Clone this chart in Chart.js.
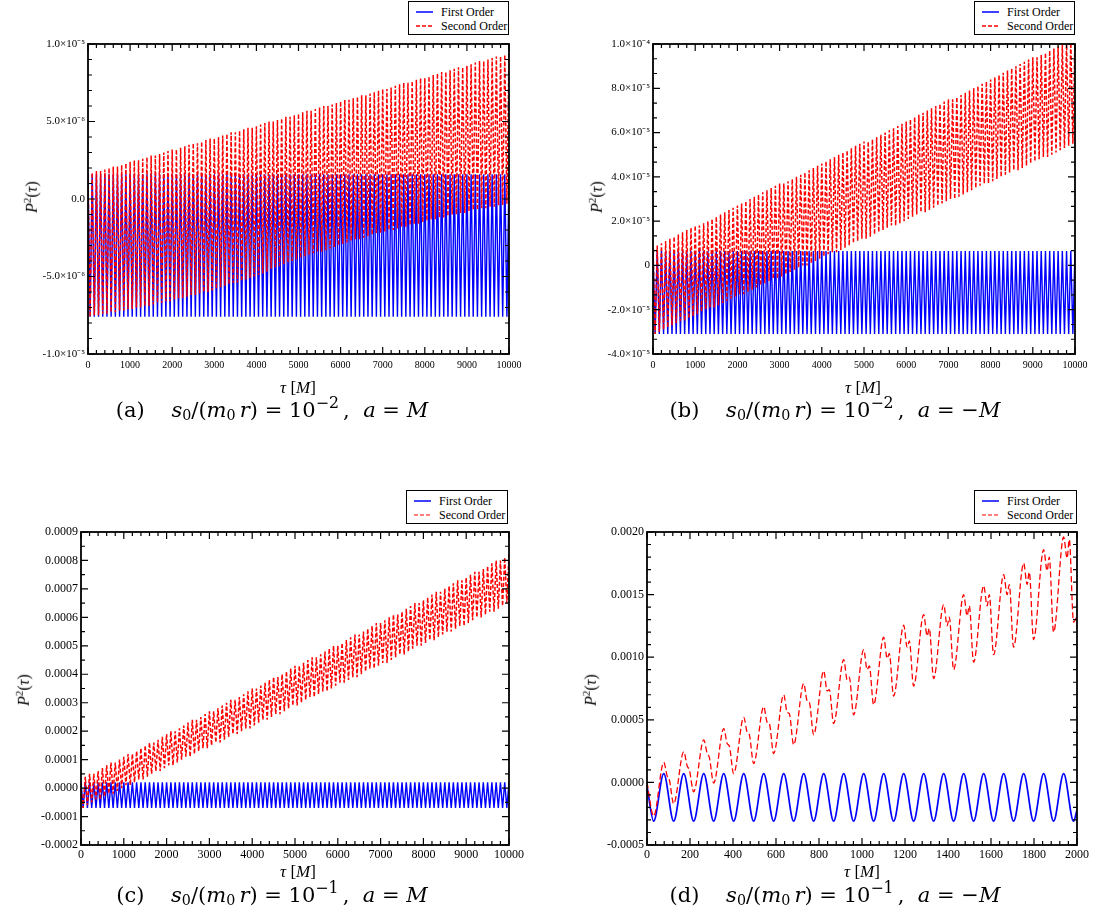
<!DOCTYPE html>
<html>
<head>
<meta charset="utf-8">
<script src="https://cdn.jsdelivr.net/npm/chart.js@4.4.1/dist/chart.umd.min.js"></script>
<style>
    body { margin: 0; background: #fff; width: 1112px; height: 909px; position: relative; overflow: hidden; font-family: "Liberation Serif", "Times New Roman", Times, serif; color: #000; }
    canvas { position: absolute; }
    .legend { position: absolute; border: 1px solid #000; background: #fff; box-sizing: border-box; padding: 3px 0 0 7px; font-size: 12px; line-height: 14px; z-index: 3; }
    .legend .row { display: flex; align-items: center; white-space: nowrap; height: 14px; }
    .legend svg { margin-right: 8px; }
    .ttl, .cap, .ytl { position: absolute; white-space: nowrap; z-index: 2; transform: translate(-50%, -50%); }
    .ttl { font-size: 17px; }
    .ytl { font-size: 16px; transform: translate(-50%, -50%) rotate(-90deg); }
    .cap { font-family: "DejaVu Serif", serif; font-size: 21px; }
    .cap sub, .ytl sup, .cap sup { font-size: 68%; }
    .cap sub { vertical-align: -0.25em; }
    .cap sup { vertical-align: 0.55em; font-size: 75%; }
</style>
</head>
<body>
<canvas id="cA" width="530" height="350" style="left:0px;top:30px"></canvas>
<canvas id="cB" width="540" height="350" style="left:556px;top:30px"></canvas>
<canvas id="cC" width="530" height="352" style="left:0px;top:518px"></canvas>
<canvas id="cD" width="540" height="352" style="left:556px;top:518px"></canvas>

<div class="legend" style="left:408px;top:1px;width:101px;height:34px">
    <div class="row"><svg width="17" height="6"><line x1="0" y1="3" x2="17" y2="3" stroke="#0000ff" stroke-width="1.5"/></svg><span>First Order</span></div>
    <div class="row"><svg width="17" height="6"><line x1="0" y1="3" x2="17" y2="3" stroke="#ff0000" stroke-width="1.5" stroke-dasharray="4,2"/></svg><span>Second Order</span></div>
</div>
<div class="legend" style="left:974px;top:1px;width:101px;height:34px">
    <div class="row"><svg width="17" height="6"><line x1="0" y1="3" x2="17" y2="3" stroke="#0000ff" stroke-width="1.5"/></svg><span>First Order</span></div>
    <div class="row"><svg width="17" height="6"><line x1="0" y1="3" x2="17" y2="3" stroke="#ff0000" stroke-width="1.5" stroke-dasharray="4,2"/></svg><span>Second Order</span></div>
</div>
<div class="legend" style="left:406px;top:490px;width:102px;height:34px">
    <div class="row"><svg width="17" height="6"><line x1="0" y1="3" x2="17" y2="3" stroke="#0000ff" stroke-width="1.5"/></svg><span>First Order</span></div>
    <div class="row"><svg width="17" height="6"><line x1="0" y1="3" x2="17" y2="3" stroke="#ff0000" stroke-width="1.2" stroke-dasharray="4,2"/></svg><span>Second Order</span></div>
</div>
<div class="legend" style="left:974px;top:490px;width:103px;height:34px">
    <div class="row"><svg width="17" height="6"><line x1="0" y1="3" x2="17" y2="3" stroke="#0000ff" stroke-width="1.5"/></svg><span>First Order</span></div>
    <div class="row"><svg width="17" height="6"><line x1="0" y1="3" x2="17" y2="3" stroke="#ff0000" stroke-width="1.2" stroke-dasharray="4,2"/></svg><span>Second Order</span></div>
</div>

<div class="ytl" style="left:31px;top:197px"><i>P</i><sup>2</sup>(<i>τ</i>)</div>
<div class="ytl" style="left:596px;top:197px"><i>P</i><sup>2</sup>(<i>τ</i>)</div>
<div class="ytl" style="left:23px;top:690px"><i>P</i><sup>2</sup>(<i>τ</i>)</div>
<div class="ytl" style="left:590px;top:690px"><i>P</i><sup>2</sup>(<i>τ</i>)</div>

<div class="ttl" style="left:298px;top:388px"><i>τ</i> [<i>M</i>]</div>
<div class="ttl" style="left:863px;top:388px"><i>τ</i> [<i>M</i>]</div>
<div class="ttl" style="left:298px;top:872px"><i>τ</i> [<i>M</i>]</div>
<div class="ttl" style="left:862px;top:872px"><i>τ</i> [<i>M</i>]</div>

<div class="cap" style="left:272px;top:408px">(a)&nbsp;&nbsp;&nbsp;&nbsp;<i>s</i><sub>0</sub>/(<i>m</i><sub>0</sub>&#8201;<i>r</i>) = 10<sup>−2</sup>&#8201;, &nbsp;<i>a</i> = <i>M</i></div>
<div class="cap" style="left:835px;top:408px">(b)&nbsp;&nbsp;&nbsp;&nbsp;<i>s</i><sub>0</sub>/(<i>m</i><sub>0</sub>&#8201;<i>r</i>) = 10<sup>−2</sup>&#8201;, &nbsp;<i>a</i> = −<i>M</i></div>
<div class="cap" style="left:272px;top:893px">(c)&nbsp;&nbsp;&nbsp;&nbsp;<i>s</i><sub>0</sub>/(<i>m</i><sub>0</sub>&#8201;<i>r</i>) = 10<sup>−1</sup>&#8201;, &nbsp;<i>a</i> = <i>M</i></div>
<div class="cap" style="left:835px;top:893px">(d)&nbsp;&nbsp;&nbsp;&nbsp;<i>s</i><sub>0</sub>/(<i>m</i><sub>0</sub>&#8201;<i>r</i>) = 10<sup>−1</sup>&#8201;, &nbsp;<i>a</i> = −<i>M</i></div>

<script>
// time samples of the maxima and minima, tau in units of M
const tauPeaks = [
    0,100,200,300,400,500,600,700,800,900,
    1000,1100,1200,1300,1400,1500,1600,1700,1800,1900,
    2000,2100,2200,2300,2400,2500,2600,2700,2800,2900,
    3000,3100,3200,3300,3400,3500,3600,3700,3800,3900,
    4000,4100,4200,4300,4400,4500,4600,4700,4800,4900,
    5000,5100,5200,5300,5400,5500,5600,5700,5800,5900,
    6000,6100,6200,6300,6400,6500,6600,6700,6800,6900,
    7000,7100,7200,7300,7400,7500,7600,7700,7800,7900,
    8000,8100,8200,8300,8400,8500,8600,8700,8800,8900,
    9000,9100,9200,9300,9400,9500,9600,9700,9800,9900,
    10000
];
const tauTroughs = [
    50,150,250,350,450,550,650,750,850,950,
    1050,1150,1250,1350,1450,1550,1650,1750,1850,1950,
    2050,2150,2250,2350,2450,2550,2650,2750,2850,2950,
    3050,3150,3250,3350,3450,3550,3650,3750,3850,3950,
    4050,4150,4250,4350,4450,4550,4650,4750,4850,4950,
    5050,5150,5250,5350,5450,5550,5650,5750,5850,5950,
    6050,6150,6250,6350,6450,6550,6650,6750,6850,6950,
    7050,7150,7250,7350,7450,7550,7650,7750,7850,7950,
    8050,8150,8250,8350,8450,8550,8650,8750,8850,8950,
    9050,9150,9250,9350,9450,9550,9650,9750,9850,9950
];

// (a) values in 1e-6
const bluePeaksA = [
    1.6,1.6,1.6,1.6,1.6,1.6,1.6,1.6,1.6,1.6, 1.6,1.6,1.6,1.6,1.6,1.6,1.6,1.6,1.6,1.6,
    1.6,1.6,1.6,1.6,1.6,1.6,1.6,1.6,1.6,1.6, 1.6,1.6,1.6,1.6,1.6,1.6,1.6,1.6,1.6,1.6,
    1.6,1.6,1.6,1.6,1.6,1.6,1.6,1.6,1.6,1.6, 1.6,1.6,1.6,1.6,1.6,1.6,1.6,1.6,1.6,1.6,
    1.6,1.6,1.6,1.6,1.6,1.6,1.6,1.6,1.6,1.6, 1.6,1.6,1.6,1.6,1.6,1.6,1.6,1.6,1.6,1.6,
    1.6,1.6,1.6,1.6,1.6,1.6,1.6,1.6,1.6,1.6, 1.6,1.6,1.6,1.6,1.6,1.6,1.6,1.6,1.6,1.6,
    1.6
];
const blueTroughsA = [
    -7.6,-7.6,-7.6,-7.6,-7.6,-7.6,-7.6,-7.6,-7.6,-7.6, -7.6,-7.6,-7.6,-7.6,-7.6,-7.6,-7.6,-7.6,-7.6,-7.6,
    -7.6,-7.6,-7.6,-7.6,-7.6,-7.6,-7.6,-7.6,-7.6,-7.6, -7.6,-7.6,-7.6,-7.6,-7.6,-7.6,-7.6,-7.6,-7.6,-7.6,
    -7.6,-7.6,-7.6,-7.6,-7.6,-7.6,-7.6,-7.6,-7.6,-7.6, -7.6,-7.6,-7.6,-7.6,-7.6,-7.6,-7.6,-7.6,-7.6,-7.6,
    -7.6,-7.6,-7.6,-7.6,-7.6,-7.6,-7.6,-7.6,-7.6,-7.6, -7.6,-7.6,-7.6,-7.6,-7.6,-7.6,-7.6,-7.6,-7.6,-7.6,
    -7.6,-7.6,-7.6,-7.6,-7.6,-7.6,-7.6,-7.6,-7.6,-7.6, -7.6,-7.6,-7.6,-7.6,-7.6,-7.6,-7.6,-7.6,-7.6,-7.6
];
const redPeaksA = [
    1.6,1.7,1.8,1.8,1.9,2.0,2.1,2.1,2.2,2.3,
    2.4,2.5,2.5,2.6,2.7,2.8,2.8,2.9,3.0,3.1,
    3.2,3.2,3.3,3.4,3.5,3.6,3.6,3.7,3.8,3.9,
    3.9,4.0,4.1,4.2,4.3,4.3,4.4,4.5,4.6,4.6,
    4.7,4.8,4.9,5.0,5.0,5.1,5.2,5.3,5.3,5.4,
    5.5,5.6,5.7,5.7,5.8,5.9,6.0,6.0,6.1,6.2,
    6.3,6.4,6.4,6.5,6.6,6.7,6.7,6.8,6.9,7.0,
    7.1,7.1,7.2,7.3,7.4,7.5,7.5,7.6,7.7,7.8,
    7.8,7.9,8.0,8.1,8.2,8.2,8.3,8.4,8.5,8.5,
    8.6,8.7,8.8,8.9,8.9,9.0,9.1,9.2,9.2,9.3,
    9.4
];
const redTroughsA = [
    -7.6,-7.5,-7.5,-7.4,-7.4,-7.3,-7.3,-7.2,-7.2,-7.1,
    -7.1,-7.0,-7.0,-6.9,-6.9,-6.8,-6.7,-6.7,-6.6,-6.6,
    -6.5,-6.4,-6.4,-6.3,-6.2,-6.2,-6.1,-6.0,-6.0,-5.9,
    -5.8,-5.7,-5.6,-5.5,-5.4,-5.4,-5.3,-5.2,-5.1,-5.0,
    -4.9,-4.8,-4.7,-4.5,-4.4,-4.3,-4.2,-4.1,-4.0,-3.9,
    -3.8,-3.7,-3.6,-3.5,-3.4,-3.4,-3.3,-3.2,-3.1,-3.0,
    -2.9,-2.8,-2.7,-2.6,-2.6,-2.5,-2.4,-2.3,-2.2,-2.2,
    -2.1,-2.0,-2.0,-1.9,-1.8,-1.8,-1.7,-1.6,-1.6,-1.5,
    -1.4,-1.3,-1.3,-1.2,-1.2,-1.1,-1.0,-1.0,-0.9,-0.9,
    -0.8,-0.7,-0.7,-0.6,-0.6,-0.5,-0.5,-0.4,-0.4,-0.3
];

// (b) values in 1e-5
const bluePeaksB = [
    0.65,0.65,0.65,0.65,0.65,0.65,0.65,0.65,0.65,0.65, 0.65,0.65,0.65,0.65,0.65,0.65,0.65,0.65,0.65,0.65,
    0.65,0.65,0.65,0.65,0.65,0.65,0.65,0.65,0.65,0.65, 0.65,0.65,0.65,0.65,0.65,0.65,0.65,0.65,0.65,0.65,
    0.65,0.65,0.65,0.65,0.65,0.65,0.65,0.65,0.65,0.65, 0.65,0.65,0.65,0.65,0.65,0.65,0.65,0.65,0.65,0.65,
    0.65,0.65,0.65,0.65,0.65,0.65,0.65,0.65,0.65,0.65, 0.65,0.65,0.65,0.65,0.65,0.65,0.65,0.65,0.65,0.65,
    0.65,0.65,0.65,0.65,0.65,0.65,0.65,0.65,0.65,0.65, 0.65,0.65,0.65,0.65,0.65,0.65,0.65,0.65,0.65,0.65,
    0.65
];
const blueTroughsB = [
    -3.1,-3.1,-3.1,-3.1,-3.1,-3.1,-3.1,-3.1,-3.1,-3.1, -3.1,-3.1,-3.1,-3.1,-3.1,-3.1,-3.1,-3.1,-3.1,-3.1,
    -3.1,-3.1,-3.1,-3.1,-3.1,-3.1,-3.1,-3.1,-3.1,-3.1, -3.1,-3.1,-3.1,-3.1,-3.1,-3.1,-3.1,-3.1,-3.1,-3.1,
    -3.1,-3.1,-3.1,-3.1,-3.1,-3.1,-3.1,-3.1,-3.1,-3.1, -3.1,-3.1,-3.1,-3.1,-3.1,-3.1,-3.1,-3.1,-3.1,-3.1,
    -3.1,-3.1,-3.1,-3.1,-3.1,-3.1,-3.1,-3.1,-3.1,-3.1, -3.1,-3.1,-3.1,-3.1,-3.1,-3.1,-3.1,-3.1,-3.1,-3.1,
    -3.1,-3.1,-3.1,-3.1,-3.1,-3.1,-3.1,-3.1,-3.1,-3.1, -3.1,-3.1,-3.1,-3.1,-3.1,-3.1,-3.1,-3.1,-3.1,-3.1
];
const redPeaksB = [
    0.8,0.9,1.0,1.1,1.2,1.3,1.4,1.5,1.6,1.7,
    1.8,1.8,1.9,2.0,2.1,2.2,2.3,2.4,2.5,2.6,
    2.7,2.8,2.9,3.0,3.1,3.2,3.3,3.4,3.5,3.6,
    3.7,3.7,3.8,3.9,4.0,4.1,4.2,4.3,4.4,4.5,
    4.6,4.7,4.8,4.9,5.0,5.1,5.2,5.3,5.4,5.5,
    5.6,5.6,5.7,5.8,5.9,6.0,6.1,6.2,6.3,6.4,
    6.5,6.6,6.7,6.8,6.9,7.0,7.1,7.2,7.3,7.4,
    7.5,7.5,7.6,7.7,7.8,7.9,8.0,8.1,8.2,8.3,
    8.4,8.5,8.6,8.7,8.8,8.9,9.0,9.1,9.2,9.3,
    9.4,9.4,9.5,9.6,9.7,9.8,9.9,10.0,10.1,10.2,
    10.3
];
const redTroughsB = [
    -3.1,-3.0,-2.9,-2.8,-2.7,-2.6,-2.5,-2.5,-2.4,-2.3,
    -2.2,-2.1,-2.0,-1.9,-1.9,-1.8,-1.7,-1.6,-1.5,-1.4,
    -1.3,-1.3,-1.2,-1.1,-1.0,-0.9,-0.8,-0.7,-0.6,-0.6,
    -0.5,-0.4,-0.3,-0.2,-0.1,0.0,0.0,0.1,0.2,0.3,
    0.4,0.5,0.6,0.6,0.7,0.8,0.9,1.0,1.1,1.2,
    1.2,1.3,1.4,1.5,1.6,1.7,1.8,1.8,1.9,2.0,
    2.1,2.2,2.3,2.4,2.4,2.5,2.6,2.7,2.8,2.9,
    3.0,3.0,3.1,3.2,3.3,3.4,3.5,3.6,3.7,3.7,
    3.8,3.9,4.0,4.1,4.2,4.3,4.3,4.4,4.5,4.6,
    4.7,4.8,4.9,4.9,5.0,5.1,5.2,5.3,5.4,5.5
];

// (c) values in 1e-4
const bluePeaksC = [
    0.2,0.2,0.2,0.2,0.2,0.2,0.2,0.2,0.2,0.2, 0.2,0.2,0.2,0.2,0.2,0.2,0.2,0.2,0.2,0.2,
    0.2,0.2,0.2,0.2,0.2,0.2,0.2,0.2,0.2,0.2, 0.2,0.2,0.2,0.2,0.2,0.2,0.2,0.2,0.2,0.2,
    0.2,0.2,0.2,0.2,0.2,0.2,0.2,0.2,0.2,0.2, 0.2,0.2,0.2,0.2,0.2,0.2,0.2,0.2,0.2,0.2,
    0.2,0.2,0.2,0.2,0.2,0.2,0.2,0.2,0.2,0.2, 0.2,0.2,0.2,0.2,0.2,0.2,0.2,0.2,0.2,0.2,
    0.2,0.2,0.2,0.2,0.2,0.2,0.2,0.2,0.2,0.2, 0.2,0.2,0.2,0.2,0.2,0.2,0.2,0.2,0.2,0.2,
    0.2
];
const blueTroughsC = [
    -0.7,-0.7,-0.7,-0.7,-0.7,-0.7,-0.7,-0.7,-0.7,-0.7, -0.7,-0.7,-0.7,-0.7,-0.7,-0.7,-0.7,-0.7,-0.7,-0.7,
    -0.7,-0.7,-0.7,-0.7,-0.7,-0.7,-0.7,-0.7,-0.7,-0.7, -0.7,-0.7,-0.7,-0.7,-0.7,-0.7,-0.7,-0.7,-0.7,-0.7,
    -0.7,-0.7,-0.7,-0.7,-0.7,-0.7,-0.7,-0.7,-0.7,-0.7, -0.7,-0.7,-0.7,-0.7,-0.7,-0.7,-0.7,-0.7,-0.7,-0.7,
    -0.7,-0.7,-0.7,-0.7,-0.7,-0.7,-0.7,-0.7,-0.7,-0.7, -0.7,-0.7,-0.7,-0.7,-0.7,-0.7,-0.7,-0.7,-0.7,-0.7,
    -0.7,-0.7,-0.7,-0.7,-0.7,-0.7,-0.7,-0.7,-0.7,-0.7, -0.7,-0.7,-0.7,-0.7,-0.7,-0.7,-0.7,-0.7,-0.7,-0.7
];
const redPeaksC = [
    0.0,0.4,0.5,0.5,0.6,0.7,0.8,0.9,0.9,1.0,
    1.1,1.2,1.2,1.3,1.4,1.5,1.6,1.6,1.7,1.8,
    1.9,2.0,2.0,2.1,2.2,2.3,2.4,2.4,2.5,2.6,
    2.7,2.7,2.8,2.9,3.0,3.1,3.1,3.2,3.3,3.4,
    3.5,3.5,3.6,3.7,3.8,3.9,3.9,4.0,4.1,4.2,
    4.3,4.3,4.4,4.5,4.6,4.6,4.7,4.8,4.9,5.0,
    5.0,5.1,5.2,5.3,5.4,5.4,5.5,5.6,5.7,5.8,
    5.8,5.9,6.0,6.1,6.1,6.2,6.3,6.4,6.5,6.5,
    6.6,6.7,6.8,6.9,6.9,7.0,7.1,7.2,7.3,7.3,
    7.4,7.5,7.6,7.6,7.7,7.8,7.9,8.0,8.0,8.1,
    8.2
];
const redTroughsC = [
    -0.7,-0.6,-0.5,-0.4,-0.4,-0.3,-0.2,-0.2,-0.1,0.0,
    0.1,0.1,0.2,0.3,0.3,0.4,0.5,0.6,0.6,0.7,
    0.8,0.8,0.9,1.0,1.1,1.1,1.2,1.3,1.4,1.4,
    1.5,1.6,1.6,1.7,1.8,1.9,1.9,2.0,2.1,2.1,
    2.2,2.3,2.4,2.4,2.5,2.6,2.6,2.7,2.8,2.9,
    2.9,3.0,3.1,3.2,3.2,3.3,3.4,3.4,3.5,3.6,
    3.7,3.7,3.8,3.9,3.9,4.0,4.1,4.2,4.2,4.3,
    4.4,4.4,4.5,4.6,4.7,4.7,4.8,4.9,5.0,5.0,
    5.1,5.2,5.2,5.3,5.4,5.5,5.5,5.6,5.7,5.7,
    5.8,5.9,6.0,6.0,6.1,6.2,6.2,6.3,6.4,6.5
];

// (d) values in 1e-4, shorter run
const tauBlueD = [
    0,31,78,124,171,217,264,310,357,403,450,496,543,589,636,682,729,775,822,868,
    915,961,1008,1054,1101,1147,1194,1240,1287,1333,1380,1426,1473,1519,1566,1612,
    1659,1705,1752,1798,1845,1891,1938,1984,2000
];
const blueD = [
    -0.3,-3.1,0.7,-3.1,0.7,-3.1,0.7,-3.1,0.7,-3.1,0.7,-3.1,0.7,-3.1,0.7,-3.1,0.7,-3.1,0.7,-3.1,
    0.7,-3.1,0.7,-3.1,0.7,-3.1,0.7,-3.1,0.7,-3.1,0.7,-3.1,0.7,-3.1,0.7,-3.1,
    0.7,-3.1,0.7,-3.1,0.7,-3.1,0.7,-3.1,-2.2
];
const tauRedD = [
    0,31,
    78,94,104,124, 171,187,197,217, 264,280,290,310, 357,373,383,403,
    450,466,476,496, 543,559,569,589, 636,652,662,682, 729,745,755,775,
    822,838,848,868, 915,931,941,961, 1008,1024,1034,1054, 1101,1117,1127,1147,
    1194,1210,1220,1240, 1287,1303,1313,1333, 1380,1396,1406,1426, 1473,1489,1499,1519,
    1566,1582,1592,1612, 1659,1675,1685,1705, 1752,1768,1778,1798, 1845,1861,1871,1891,
    1938,1954,1964,1984,
    2000
];
const redD = [
    0.0,-2.7,
    1.6,0.5,0.2,-1.7, 2.45,1.3,1.0,-0.75, 3.4,2.3,2.0,-0.05, 4.3,3.1,2.9,0.7,
    5.2,4.0,3.8,1.5, 6.05,4.8,4.7,2.3, 7.0,5.6,5.5,3.0, 7.9,6.5,6.4,3.8,
    8.9,7.3,7.4,4.7, 9.8,8.2,8.4,5.4, 10.6,9.0,9.3,6.2, 11.6,9.9,10.3,6.9,
    12.55,10.8,11.3,7.7, 13.4,11.7,12.3,8.3, 14.2,12.5,13.2,9.0, 15.0,13.3,14.1,9.6,
    15.7,14.1,15.0,10.2, 16.6,15.0,15.8,10.8, 17.5,15.8,16.8,11.4, 18.6,16.9,18.0,12.0,
    19.6,17.9,19.4,12.8,
    13.3
];

// axis ticks and labels
const xTicksLong = [0,1000,2000,3000,4000,5000,6000,7000,8000,9000,10000];
const xLabelsLong = ["0","1000","2000","3000","4000","5000","6000","7000","8000","9000","10000"];
const xTicksD = [0,200,400,600,800,1000,1200,1400,1600,1800,2000];
const xLabelsD = ["0","200","400","600","800","1000","1200","1400","1600","1800","2000"];
const yTicksA = [-10,-5,0,5,10];
const yLabelsA = ["-1.0×10⁻⁵","-5.0×10⁻⁶","0.0","5.0×10⁻⁶","1.0×10⁻⁵"];
const yTicksB = [-4,-2,0,2,4,6,8,10];
const yLabelsB = ["-4.0×10⁻⁵","-2.0×10⁻⁵","0","2.0×10⁻⁵","4.0×10⁻⁵","6.0×10⁻⁵","8.0×10⁻⁵","1.0×10⁻⁴"];
const yTicksC = [-2,-1,0,1,2,3,4,5,6,7,8,9];
const yLabelsC = ["-0.0002","-0.0001","0.0000","0.0001","0.0002","0.0003","0.0004","0.0005","0.0006","0.0007","0.0008","0.0009"];
const yTicksD = [-5,0,5,10,15,20];
const yLabelsD = ["-0.0005","0.0000","0.0005","0.0010","0.0015","0.0020"];

const FONT = '"Liberation Serif", "Times New Roman", Times, serif';

// peaks and troughs alternate in time, so put them back into one trace
function mergeExtrema(tp, vp, tt, vt) {
    const out = [];
    for (let i = 0; i < tp.length; i++) {
        out.push({ x: tp[i], y: vp[i] });
        if (i < tt.length) out.push({ x: tt[i], y: vt[i] });
    }
    return out;
}

function zipXY(tau, vals) {
    return tau.map((t, i) => ({ x: t, y: vals[i] }));
}

// box + inward ticks on all four sides, like the grace frame
const framePlugin = {
    id: "frame",
    afterDatasetsDraw(chart, args, o) {
        const { ctx, chartArea: a } = chart;
        const sx = chart.scales.x;
        const sy = chart.scales.y;
        ctx.save();
        ctx.strokeStyle = "#000";
        ctx.lineWidth = 1.2;
        ctx.beginPath();
        let n = Math.round((sx.max - sx.min) / o.xMajor * o.xDiv);
        for (let i = 0; i <= n; i++) {
            const v = sx.min + i * o.xMajor / o.xDiv;
            const px = sx.getPixelForValue(v);
            const len = i % o.xDiv === 0 ? 7 : 4;
            ctx.moveTo(px, a.bottom);
            ctx.lineTo(px, a.bottom - len);
            ctx.moveTo(px, a.top);
            ctx.lineTo(px, a.top + len);
        }
        n = Math.round((sy.max - sy.min) / o.yMajor * o.yDiv);
        for (let i = 0; i <= n; i++) {
            const v = sy.min + i * o.yMajor / o.yDiv;
            const py = sy.getPixelForValue(v);
            const len = i % o.yDiv === 0 ? 7 : 4;
            ctx.moveTo(a.left, py);
            ctx.lineTo(a.left + len, py);
            ctx.moveTo(a.right, py);
            ctx.lineTo(a.right - len, py);
        }
        ctx.stroke();
        ctx.lineWidth = 1.8;
        ctx.strokeRect(a.left, a.top, a.right - a.left, a.bottom - a.top);
        ctx.restore();
    },
};

function makeChart(id, geo, xs, ys, frame, datasets) {
    return new Chart(document.getElementById(id), {
        type: "line",
        data: { datasets },
        options: {
            responsive: false,
            animation: false,
            normalized: true,
            events: [],
            layout: {
                autoPadding: false,
                padding: { left: 0, top: geo.padTop, right: geo.padRight, bottom: 0 },
            },
            plugins: {
                legend: { display: false },
                tooltip: { enabled: false },
                frame,
            },
            scales: {
                x: {
                    type: "linear",
                    min: xs.min,
                    max: xs.max,
                    afterBuildTicks: (s) => { s.ticks = xs.ticks.map((v) => ({ value: v })); },
                    afterFit: (s) => { s.height = geo.xH; },
                    grid: { display: false, drawTicks: false },
                    border: { display: false },
                    ticks: {
                        autoSkip: false, maxRotation: 0, minRotation: 0,
                        padding: geo.xPad, color: "#000",
                        font: { family: FONT, size: geo.font },
                        callback: (v, i) => xs.labels[i],
                    },
                },
                y: {
                    type: "linear",
                    min: ys.min,
                    max: ys.max,
                    afterBuildTicks: (s) => { s.ticks = ys.ticks.map((v) => ({ value: v })); },
                    afterFit: (s) => { s.width = geo.yW; },
                    grid: { display: false, drawTicks: false },
                    border: { display: false },
                    ticks: {
                        autoSkip: false, padding: 3, color: "#000",
                        font: { family: FONT, size: geo.yFont },
                        callback: (v, i) => ys.labels[i],
                    },
                },
            },
        },
        plugins: [framePlugin],
    });
}

function denseSets(blue, red) {
    return [
        { data: blue, borderColor: "#0000ff", borderWidth: 1.4, pointRadius: 0, tension: 0, order: 2 },
        { data: red, borderColor: "#ff0000", borderWidth: 1.5, borderDash: [4, 2], pointRadius: 0, tension: 0, order: 1 },
    ];
}

makeChart("cA",
    { padTop: 14, padRight: 21, yW: 88, xH: 26, xPad: 5, font: 10, yFont: 11 },
    { min: 0, max: 10000, ticks: xTicksLong, labels: xLabelsLong },
    { min: -10, max: 10, ticks: yTicksA, labels: yLabelsA },
    { xMajor: 1000, xDiv: 5, yMajor: 5, yDiv: 5 },
    denseSets(mergeExtrema(tauPeaks, bluePeaksA, tauTroughs, blueTroughsA),
              mergeExtrema(tauPeaks, redPeaksA, tauTroughs, redTroughsA)));

makeChart("cB",
    { padTop: 14, padRight: 21, yW: 97, xH: 26, xPad: 5, font: 10, yFont: 11 },
    { min: 0, max: 10000, ticks: xTicksLong, labels: xLabelsLong },
    { min: -4, max: 10, ticks: yTicksB, labels: yLabelsB },
    { xMajor: 1000, xDiv: 5, yMajor: 2, yDiv: 3 },
    denseSets(mergeExtrema(tauPeaks, bluePeaksB, tauTroughs, blueTroughsB),
              mergeExtrema(tauPeaks, redPeaksB, tauTroughs, redTroughsB)));

makeChart("cC",
    { padTop: 14, padRight: 21, yW: 81, xH: 25, xPad: 3, font: 12, yFont: 12 },
    { min: 0, max: 10000, ticks: xTicksLong, labels: xLabelsLong },
    { min: -2, max: 9, ticks: yTicksC, labels: yLabelsC },
    { xMajor: 1000, xDiv: 5, yMajor: 1, yDiv: 2 },
    denseSets(mergeExtrema(tauPeaks, bluePeaksC, tauTroughs, blueTroughsC),
              mergeExtrema(tauPeaks, redPeaksC, tauTroughs, redTroughsC)));

makeChart("cD",
    { padTop: 14, padRight: 19, yW: 91, xH: 25, xPad: 3, font: 12, yFont: 12 },
    { min: 0, max: 2000, ticks: xTicksD, labels: xLabelsD },
    { min: -5, max: 20, ticks: yTicksD, labels: yLabelsD },
    { xMajor: 200, xDiv: 5, yMajor: 5, yDiv: 5 },
    [
        { data: zipXY(tauBlueD, blueD), borderColor: "#0000ff", borderWidth: 1.7, pointRadius: 0, cubicInterpolationMode: "monotone", order: 2 },
        { data: zipXY(tauRedD, redD), borderColor: "#ff0000", borderWidth: 1.3, borderDash: [6, 3], pointRadius: 0, cubicInterpolationMode: "monotone", order: 1 },
    ]);
</script>
</body>
</html>
